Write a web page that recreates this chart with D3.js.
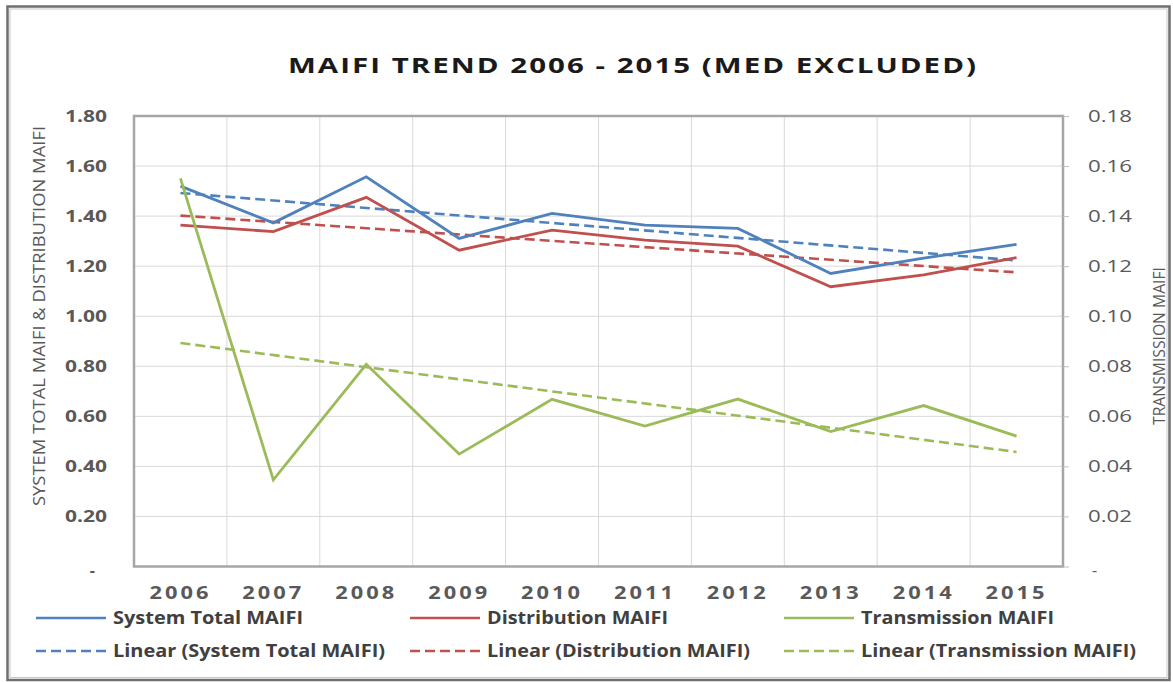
<!DOCTYPE html>
<html><head><meta charset="utf-8">
<script src="https://cdn.jsdelivr.net/npm/d3@7"></script>
<style>body{margin:0;background:#fff}svg{display:block}</style>
</head><body>
<svg id="c" width="1173" height="682"></svg>
<script>
// ---- data ----
const years = ["2006","2007","2008","2009","2010","2011","2012","2013","2014","2015"];
const systemTotal  = [1.520,1.373,1.557,1.311,1.411,1.364,1.351,1.171,1.232,1.287];
const distribution = [1.364,1.338,1.475,1.264,1.344,1.304,1.280,1.118,1.165,1.234];
const transmission = [0.1551,0.0346,0.0808,0.0449,0.0668,0.0561,0.0669,0.0539,0.0643,0.0521];
const leftTicks  = [0,0.2,0.4,0.6,0.8,1.0,1.2,1.4,1.6,1.8];
const rightTicks = [0,0.02,0.04,0.06,0.08,0.10,0.12,0.14,0.16,0.18];
const seriesNames = ["System Total MAIFI","Distribution MAIFI","Transmission MAIFI"];
const titleText = "MAIFI TREND 2006 - 2015 (MED EXCLUDED)";
const leftTitle = "SYSTEM TOTAL MAIFI & DISTRIBUTION MAIFI";
const rightTitle = "TRANSMISSION MAIFI";

// ---- layout ----
const P = {l:134, r:1063, t:116, b:566.5};
const colors = ["#4F81BD","#C0504D","#9BBB59"];
const FONT = "'Open Sans', sans-serif";
const svg = d3.select("#c");

svg.append("rect").attr("x",7.5).attr("y",6.5).attr("width",1162).attr("height",673.5)
  .attr("fill","none").attr("stroke","#6f6f6f").attr("stroke-width",2.5);
svg.append("rect").attr("x",10).attr("y",9).attr("width",1157).attr("height",668.5)
  .attr("fill","none").attr("stroke","#c8c8c8").attr("stroke-width",1);

const x = d3.scaleBand().domain(years).range([P.l,P.r]);
const yL = d3.scaleLinear().domain([0,1.8]).range([P.b,P.t]);
const yR = d3.scaleLinear().domain([0,0.18]).range([P.b,P.t]);
const cx = d => x(d)+x.bandwidth()/2;

// gridlines
const grid = svg.append("g").attr("stroke","#d9d9d9").attr("stroke-width",1);
grid.selectAll("line.h").data(leftTicks.slice(1,-1)).join("line")
  .attr("x1",P.l).attr("x2",P.r).attr("y1",d=>yL(d)).attr("y2",d=>yL(d));
grid.selectAll("line.v").data(years.slice(1)).join("line")
  .attr("y1",P.t).attr("y2",P.b).attr("x1",d=>x(d)).attr("x2",d=>x(d));

// plot border
svg.append("rect").attr("x",P.l).attr("y",P.t).attr("width",P.r-P.l).attr("height",P.b-P.t)
  .attr("fill","none").attr("stroke","#a6a6a6").attr("stroke-width",2.5);

// axes
const fmtL = d => d===0 ? "-" : d3.format(".2f")(d);
const gL = svg.append("g").attr("transform",`translate(${P.l},0)`)
  .call(d3.axisLeft(yL).tickValues(leftTicks).tickSize(0).tickPadding(27).tickFormat(fmtL));
gL.select(".domain").remove();
gL.selectAll("text").attr("font-family",FONT).attr("font-weight",700).attr("font-size",16)
  .attr("fill","#595959")
  .each(function(d){ const s=d3.select(this);
    if(d!==0) s.attr("textLength",42).attr("lengthAdjust","spacingAndGlyphs");
    else s.attr("x",-39).attr("dy","0.55em"); });

const gR = svg.append("g").attr("transform",`translate(${P.r},0)`)
  .call(d3.axisRight(yR).tickValues(rightTicks).tickSize(6).tickPadding(19).tickFormat(fmtL));
gR.select(".domain").remove();
gR.selectAll(".tick line").attr("stroke","#bfbfbf");
gR.selectAll("text").attr("font-family",FONT).attr("font-weight",400).attr("font-size",16)
  .attr("fill","#595959")
  .each(function(d){ const s=d3.select(this);
    if(d!==0) s.attr("textLength",44).attr("lengthAdjust","spacingAndGlyphs");
    else s.attr("x",29).attr("dy","0.55em"); });

const gB = svg.append("g").attr("transform",`translate(0,${P.b})`)
  .call(d3.axisBottom(x).tickSize(0).tickPadding(20));
gB.select(".domain").remove();
gB.selectAll("text").attr("font-family",FONT).attr("font-weight",700).attr("font-size",18)
  .attr("fill","#595959").attr("letter-spacing",2.5)
  .attr("textLength",62).attr("lengthAdjust","spacingAndGlyphs");

// titles
svg.append("text").attr("x",633).attr("y",73).attr("text-anchor","middle")
  .attr("font-family",FONT).attr("font-weight",700).attr("font-size",22).attr("fill","#1a1a1a")
  .attr("letter-spacing",1.5)
  .attr("textLength",690).attr("lengthAdjust","spacingAndGlyphs").text(titleText);
svg.append("text").attr("transform","translate(45,316) rotate(-90)").attr("text-anchor","middle")
  .attr("font-family",FONT).attr("font-size",17).attr("fill","#595959")
  .attr("textLength",380).attr("lengthAdjust","spacingAndGlyphs").text(leftTitle);
svg.append("text").attr("transform","translate(1165,346) rotate(-90)").attr("text-anchor","middle")
  .attr("font-family",FONT).attr("font-size",17).attr("fill","#595959")
  .attr("textLength",158).attr("lengthAdjust","spacingAndGlyphs").text(rightTitle);

// series
function linReg(v){
  const n=v.length, mx=(n-1)/2, my=d3.mean(v);
  let sxy=0,sxx=0; v.forEach((y,i)=>{sxy+=(i-mx)*(y-my); sxx+=(i-mx)*(i-mx);});
  const b=sxy/sxx; return i => my + b*(i-mx);
}
const series = [
  {vals:systemTotal, y:yL, color:colors[0]},
  {vals:distribution, y:yL, color:colors[1]},
  {vals:transmission, y:yR, color:colors[2]}
];
const plot = svg.append("g");
series.forEach(s=>{
  const f = linReg(s.vals);
  const ends = [0, years.length-1];
  plot.append("path").datum(ends)
    .attr("d", d3.line().x(i=>cx(years[i])).y(i=>s.y(f(i))))
    .attr("fill","none").attr("stroke",s.color).attr("stroke-width",2.6).attr("stroke-dasharray","10,5");
});
series.forEach(s=>{
  plot.append("path").datum(s.vals)
    .attr("d", d3.line().x((v,i)=>cx(years[i])).y(v=>s.y(v)))
    .attr("fill","none").attr("stroke",s.color).attr("stroke-width",2.8).attr("stroke-linejoin","miter");
});

// legend
const legCols = [36,410,784];
const legRows = [618,651];
const legW = [[190,181,193],[272,263,275]];
const leg = svg.append("g");
[0,1].forEach(r=>{
  seriesNames.forEach((name,i)=>{
    const label = r===0 ? name : `Linear (${name})`;
    const x0 = legCols[i], y0 = legRows[r];
    leg.append("line").attr("x1",x0).attr("x2",x0+70).attr("y1",y0).attr("y2",y0)
      .attr("stroke",colors[i]).attr("stroke-width",2.6)
      .attr("stroke-dasharray", r===1 ? "10,5" : null);
    leg.append("text").attr("x",x0+77).attr("y",y0).attr("dy","0.36em")
      .attr("font-family",FONT).attr("font-weight",700).attr("font-size",17).attr("fill","#404040")
      .attr("textLength",legW[r][i]).attr("lengthAdjust","spacingAndGlyphs").text(label);
  });
});
</script>
</body></html>
